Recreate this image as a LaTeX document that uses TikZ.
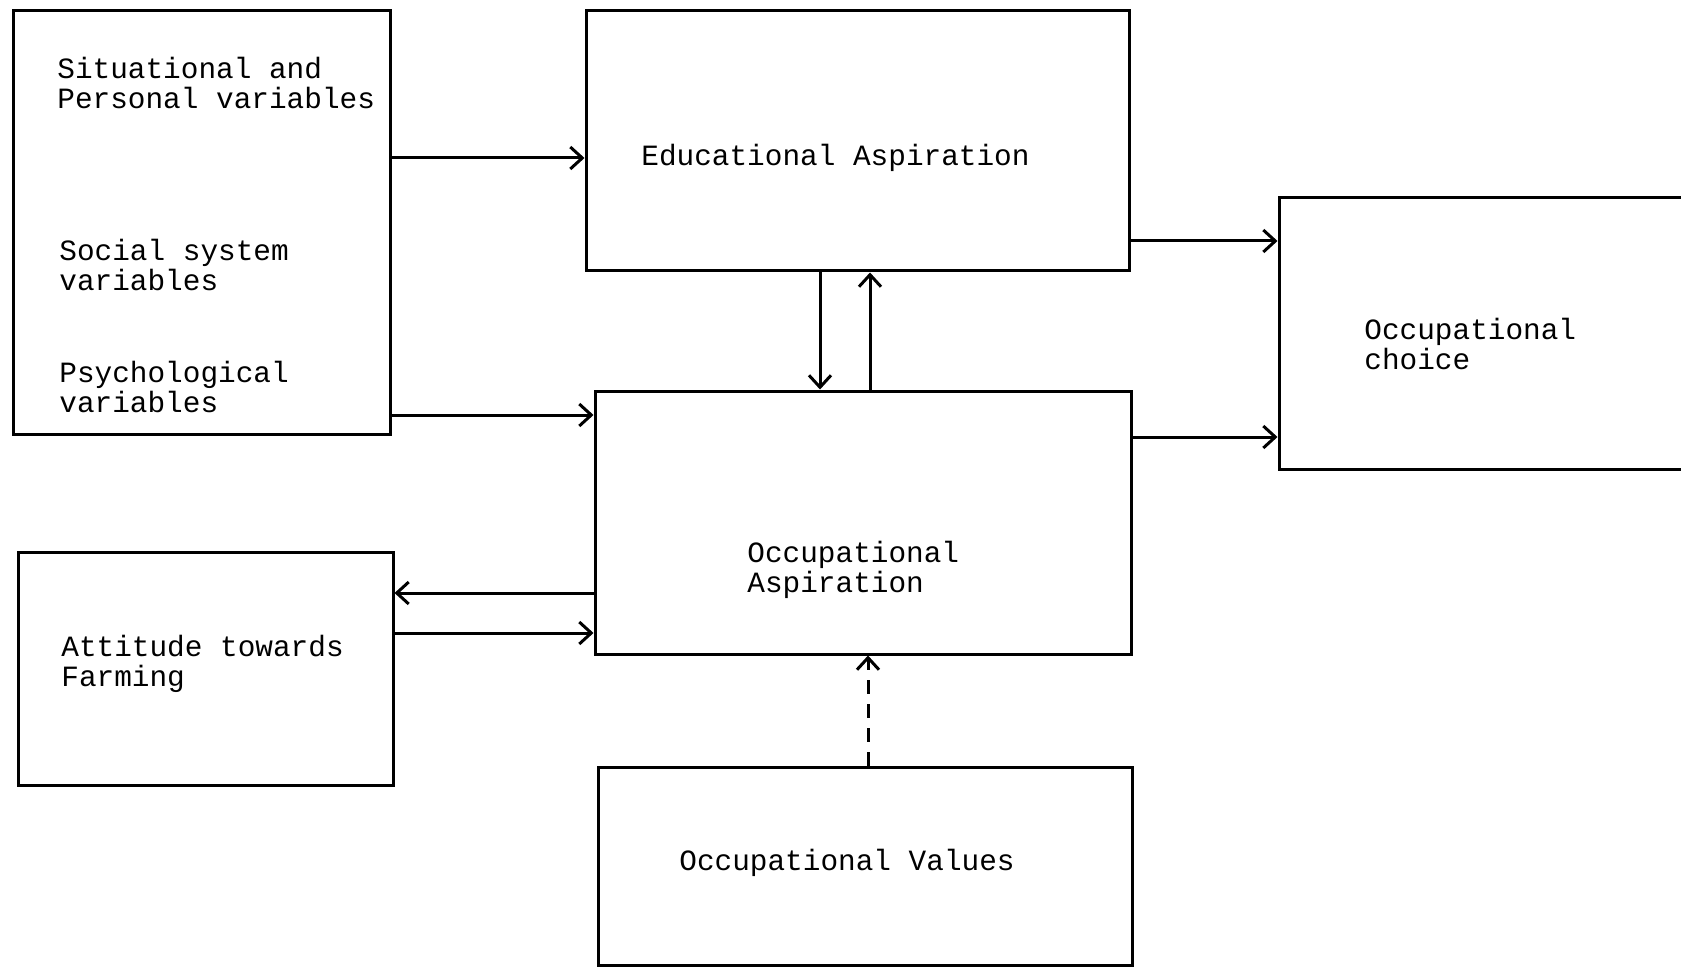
\documentclass[tikz,border=0pt]{standalone}
\usepackage{fontspec}
\setmonofont{Liberation Mono}
\usetikzlibrary{arrows.meta,fit}

\begin{document}
\begin{tikzpicture}[x=0.5pt,y=-0.5pt,
  box/.style={draw, line width=1.5pt, rectangle, inner sep=0pt},
  lbl/.style={anchor=west, align=left, inner sep=0pt,
    font=\ttfamily\fontsize{14.7}{15}\selectfont},
  arr/.style={line width=1.5pt,
    -{Straight Barb[length=6pt,width=11pt,line width=1.5pt]}},
  dasharr/.style={arr, dash pattern=on 7pt off 5pt},
]
\useasboundingbox (0,0) rectangle (1681,968);
\clip (0,0) rectangle (1681,968);

% corner points of the boxes
\coordinate (a1) at (13,11);    \coordinate (a2) at (390,434);
\coordinate (b1) at (586,11);   \coordinate (b2) at (1129,271);
\coordinate (c1) at (595,391);  \coordinate (c2) at (1131,654);
\coordinate (d1) at (1279,198); \coordinate (d2) at (1720,469);
\coordinate (e1) at (18,552);   \coordinate (e2) at (393,785);
\coordinate (f1) at (598,767);  \coordinate (f2) at (1132,965);

% boxes
\node[box, fit=(a1)(a2)] (vars) {};
\node[box, fit=(b1)(b2)] (edu) {};
\node[box, fit=(c1)(c2)] (occ) {};
\node[box, fit=(d1)(d2)] (choice) {};
\node[box, fit=(e1)(e2)] (att) {};
\node[box, fit=(f1)(f2)] (val) {};

% labels
\node[lbl] (t1) at (57,83)   {Situational and\\Personal variables};
\node[lbl] (t2) at (59,265)  {Social system\\variables};
\node[lbl] (t3) at (59,387)  {Psychological\\variables};
\node[lbl] (t4) at (641,158) {Educational Aspiration};
\node[lbl] (t5) at (1364,344) {Occupational\\choice};
\node[lbl] (t6) at (747,570) {Occupational\\Aspiration};
\node[lbl] (t7) at (61,664)  {Attitude towards\\Farming};
\node[lbl] (t8) at (679,863) {Occupational Values};

% connectors
\draw[arr] (vars.east |- 0,158) -- (edu.west |- 0,158);
\draw[arr] (vars.east |- 0,415) -- (occ.west |- 0,415);
\draw[arr] (edu.south -| 820,0) -- (occ.north -| 820,0);
\draw[arr] (occ.north -| 870,0) -- (edu.south -| 870,0);
\draw[arr] (edu.east |- 0,241) -- (choice.west |- 0,241);
\draw[arr] (occ.east |- 0,437) -- (choice.west |- 0,437);
\draw[arr] (occ.west |- 0,593) -- (att.east |- 0,593);
\draw[arr] (att.east |- 0,633) -- (occ.west |- 0,633);
\draw[dasharr] (val.north -| 868,0) -- (occ.south -| 868,0);
\end{tikzpicture}
\end{document}
